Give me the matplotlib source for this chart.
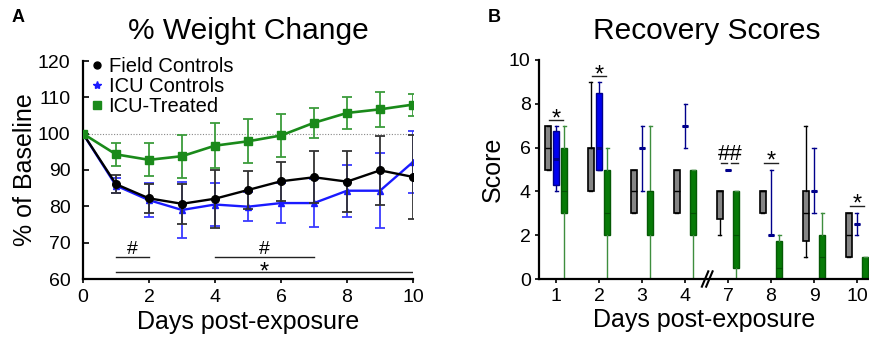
import matplotlib
matplotlib.use("Agg")
import matplotlib.pyplot as plt
from matplotlib.lines import Line2D
import numpy as np

plt.rcParams['font.family'] = ['Liberation Sans', 'DejaVu Sans']

# ---------------- Panel A data ----------------
days_a = [0, 1, 2, 3, 4, 5, 6, 7, 8, 9, 10]
field_mean = [100, 86.1, 82.2, 80.7, 82.1, 84.5, 86.9, 88.0, 86.8, 89.9, 88.1]
field_err = [0, 2.5, 3.9, 5.5, 8.0, 5.2, 5.3, 7.2, 8.3, 9.5, 11.5]
icu_mean = [100, 85.7, 81.7, 79.0, 80.5, 79.9, 80.9, 80.9, 84.3, 84.3, 92.2]
icu_err = [0, 2.0, 4.6, 7.6, 6.0, 4.0, 5.5, 6.6, 7.2, 10.3, 8.6]
trt_mean = [100, 94.3, 92.8, 93.8, 96.7, 97.9, 99.5, 103.0, 105.7, 106.7, 108.0]
trt_err = [0, 3.1, 4.5, 5.9, 6.1, 6.1, 5.8, 4.1, 4.4, 4.9, 3.0]

# significance bars panel A: (x start, x end, y, label)
sig_a_x0 = [1, 4, 1]
sig_a_x1 = [2, 7, 10]
sig_a_y = [66, 66, 61.8]
sig_a_lab = ['#', '#', '*']

# ---------------- Panel B data ----------------
days_b = ['1', '2', '3', '4', '7', '8', '9', '10']
f_q1 = [5, 4, 3, 3, 2.75, 3, 1.75, 1]
f_med = [6, 6, 4, 4, 4, 4, 3, 2]
f_q3 = [7, 6, 5, 5, 4, 4, 4, 3]
f_lo = [5, 4, 3, 3, 2, 3, 1, 1]
f_hi = [7, 9, 5, 5, 4, 4, 7, 3]

i_q1 = [4.3, 5, 6, 7, 5, 2, 4, 2.5]
i_med = [5.5, 6, 6, 7, 5, 2, 4, 2.5]
i_q3 = [6.75, 8.5, 6, 7, 5, 2, 4, 2.5]
i_lo = [4, 5, 4, 6, 5, 2, 3, 2]
i_hi = [7, 9, 7, 8, 5, 5, 6, 3]

t_q1 = [3, 2, 2, 2, 0.5, 0, 0, 0]
t_med = [4, 3, 4, 3, 2, 0.5, 1, 0]
t_q3 = [6, 5, 4, 5, 4, 1.75, 2, 1]
t_lo = [0, 0, 0, 0, 0, 0, 0, 0]
t_hi = [7, 6, 7, 5, 4, 2, 3, 1]

# significance in panel B
star_b_idx = [0, 1, 5, 7]
star_b_y = [7.25, 9.25, 5.3, 3.35]

W, H = 869, 339
fig = plt.figure(figsize=(W / 100, H / 100), dpi=100)

# ================= Panel A =================
axA = fig.add_axes([83 / W, 1 - 279 / H, 330 / W, 218 / H])
axA.axhline(100, color='#888888', lw=0.8, ls=(0, (1, 1.5)), zorder=0)

eb_kw = dict(capsize=3.5, elinewidth=1.3, capthick=1.3)
axA.errorbar(days_a, icu_mean, yerr=icu_err, color='#1a1aff', ecolor='#3a3aff',
             marker='^', ms=5, lw=1.7, zorder=3, **eb_kw)
axA.errorbar(days_a, field_mean, yerr=field_err, color='black', ecolor='#333333',
             marker='o', ms=5.5, lw=1.7, zorder=4, **eb_kw)
axA.errorbar(days_a, trt_mean, yerr=trt_err, color='#1a8a1a', ecolor='#3c9c3c',
             marker='s', ms=6, lw=1.9, zorder=5, **eb_kw)

for x0, x1, y, lab in zip(sig_a_x0, sig_a_x1, sig_a_y, sig_a_lab):
    axA.plot([x0, x1], [y, y], color='#222222', lw=1.0)
    if lab == '*':
        axA.annotate(lab, xy=((x0 + x1) / 2, y), xytext=(0, -4.5), textcoords='offset points',
                     ha='center', va='baseline', fontsize=17)
    else:
        axA.annotate(lab, xy=((x0 + x1) / 2, y), xytext=(0, 2.5), textcoords='offset points',
                     ha='center', va='baseline', fontsize=14)

axA.set_xlim(0, 10)
axA.set_ylim(60, 120)
axA.set_xticks([0, 2, 4, 6, 8, 10])
axA.set_yticks([60, 70, 80, 90, 100, 110, 120])
for s in ['top', 'right']:
    axA.spines[s].set_visible(False)
for s in ['left', 'bottom']:
    axA.spines[s].set_linewidth(1.6)
axA.tick_params(axis='y', direction='in', length=4, width=1.2, labelsize=14, pad=9)
axA.tick_params(axis='x', direction='out', length=3, width=1.2, labelsize=14, pad=4)
axA.set_xlabel('Days post-exposure', fontsize=18, labelpad=3)
axA.set_ylabel('% of Baseline', fontsize=18, labelpad=0.5)

handles = [Line2D([], [], color='black', marker='o', ls='none', ms=5),
           Line2D([], [], color='#1a1aff', marker='*', ls='none', ms=6),
           Line2D([], [], color='#1a8a1a', marker='s', ls='none', ms=6)]
axA.legend(handles, ['Field Controls', 'ICU Controls', 'ICU-Treated'], loc='upper left',
           bbox_to_anchor=(-0.02, 1.085), frameon=False, fontsize=14.5, handlelength=0.6,
           handletextpad=0.3, labelspacing=0.05, borderaxespad=0.3)

fig.text(248 / W, 1 - 31 / H, '% Weight Change', ha='center', va='center', fontsize=21.5)
fig.text(12 / W, 1 - 18 / H, 'A', ha='left', va='center', fontsize=13, fontweight='bold')

# ================= Panel B =================
axB = fig.add_axes([539 / W, 1 - 279 / H, (W - 539) / W, 219 / H])
pos = np.arange(1, len(days_b) + 1)
off = 0.19
bw = 0.14


def stats(q1, med, q3, lo, hi):
    return [dict(med=m, q1=a, q3=b, whislo=l, whishi=h, fliers=[])
            for a, m, b, l, h in zip(q1, med, q3, lo, hi)]


axB.bxp(stats(f_q1, f_med, f_q3, f_lo, f_hi), positions=pos - off, widths=bw,
        patch_artist=True, showfliers=False,
        boxprops=dict(facecolor='#858585', edgecolor='black', lw=1.2),
        medianprops=dict(color='black', lw=1.0),
        whiskerprops=dict(color='black', lw=1.0),
        capprops=dict(color='black', lw=1.0), capwidths=0.07)
axB.bxp(stats(i_q1, i_med, i_q3, i_lo, i_hi), positions=pos, widths=bw,
        patch_artist=True, showfliers=False,
        boxprops=dict(facecolor='#0000f0', edgecolor='#00008b', lw=1.0),
        medianprops=dict(color='#00008b', lw=2.2),
        whiskerprops=dict(color='#00008b', lw=1.0),
        capprops=dict(color='#00008b', lw=1.0), capwidths=0.07)
axB.bxp(stats(t_q1, t_med, t_q3, t_lo, t_hi), positions=pos + off, widths=bw,
        patch_artist=True, showfliers=False,
        boxprops=dict(facecolor='#077a07', edgecolor='#055a05', lw=1.0),
        medianprops=dict(color='#045004', lw=0.8),
        whiskerprops=dict(color='#3e8e3e', lw=1.0),
        capprops=dict(color='#3e8e3e', lw=1.0), capwidths=0.07)

for idx, y in zip(star_b_idx, star_b_y):
    x = pos[idx]
    axB.plot([x - 0.16, x + 0.16], [y, y], color='#222222', lw=1.0)
    axB.annotate('*', xy=(x, y), xytext=(0, -3.5), textcoords='offset points',
                 ha='center', va='baseline', fontsize=17)

# "##" at day 7
x7 = pos[4]
axB.annotate('##', xy=(x7 + 0.04, 5.3), xytext=(0, 2.0), textcoords='offset points',
             ha='center', va='baseline', fontsize=16)
axB.plot([x7 - 0.16, x7 - 0.03], [5.3, 5.3], color='#222222', lw=1.0)
axB.plot([x7 + 0.07, x7 + 0.22], [5.3, 5.3], color='#222222', lw=1.0)

# axis break mark between day 4 and day 7
for dx in (-0.06, 0.04):
    axB.plot([4.45 + dx, 4.6 + dx], [-0.35, 0.35], color='black', lw=1.5, clip_on=False)

axB.set_xlim(0.6, 8.28)
axB.set_ylim(0, 10)
axB.set_xticks(pos)
axB.set_xticklabels(days_b)
axB.set_yticks([0, 2, 4, 6, 8, 10])
for s in ['top', 'right']:
    axB.spines[s].set_visible(False)
for s in ['left', 'bottom']:
    axB.spines[s].set_linewidth(1.6)
axB.tick_params(axis='both', direction='out', length=3, width=1.2, labelsize=14)
axB.tick_params(axis='y', pad=3)
axB.set_xlabel('Days post-exposure', fontsize=18, labelpad=2)
axB.set_ylabel('Score', fontsize=18, labelpad=3)

fig.text(707 / W, 1 - 31 / H, 'Recovery Scores', ha='center', va='center', fontsize=21.5)
fig.text(488 / W, 1 - 18 / H, 'B', ha='left', va='center', fontsize=13, fontweight='bold')

fig.savefig('out.png', dpi=100)
